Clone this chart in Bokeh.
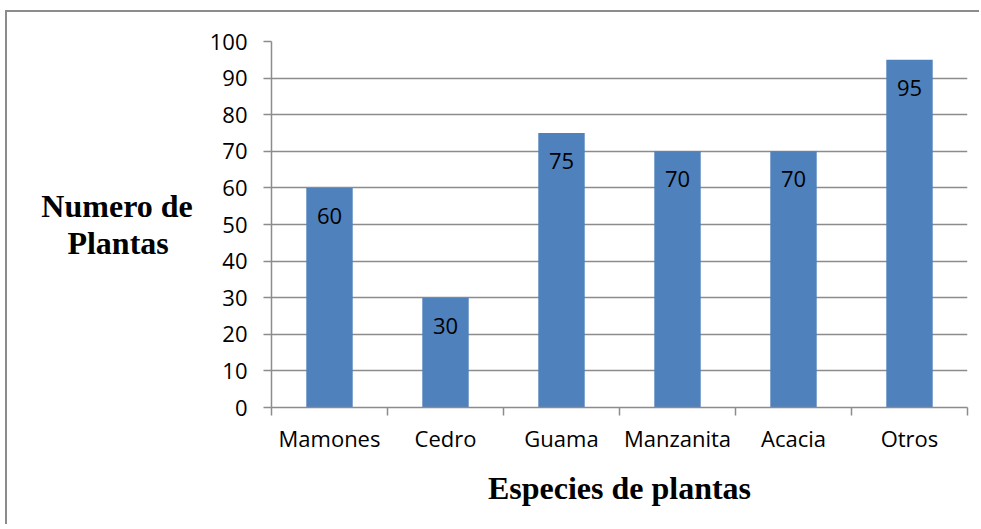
from bokeh.plotting import figure
from bokeh.models import FixedTicker, Range1d, ColumnDataSource
from bokeh.core.properties import value
from bokeh.embed import file_html
from bokeh.resources import INLINE

categories = ["Mamones", "Cedro", "Guama", "Manzanita", "Acacia", "Otros"]
counts = [60, 30, 75, 70, 70, 95]
y_ticks = [0, 10, 20, 30, 40, 50, 60, 70, 80, 90, 100]
x_title = "Especies de plantas"
# the second line is padded with no-break spaces so that it sits centred
y_title = "Numero de\nPlantas\u00a0\u00a0\u00a0"

n = len(categories)
centers = [i + 0.5 for i in range(n)]
bounds = list(range(n + 1))

GRAY = "#8c8c8c"
BAR = "#4F81BD"
TICK_FONT = "Open Sans"
TITLE_FONT = "Liberation Serif"

source = ColumnDataSource(dict(
    x=centers, top=counts, cat=categories, label=[str(v) for v in counts]))

p = figure(width=974, height=514, output_backend="svg", toolbar_location=None,
           x_range=Range1d(0, n), y_range=Range1d(0, 100),
           min_border_left=264, min_border_right=14,
           min_border_top=29, min_border_bottom=119)
p.margin = (10, 0, 0, 5)
p.styles = {"border-left": "2px solid " + GRAY, "border-top": "2px solid " + GRAY}
p.outline_line_color = None
p.background_fill_color = "white"
p.border_fill_color = "white"

p.vbar(x="x", top="top", bottom=0, width=0.4, source=source,
       fill_color=BAR, line_color=None)
p.text(x="x", y="top", text="label", source=source, text_align="center",
       text_baseline="alphabetic", y_offset=28,
       text_font=value(TICK_FONT), text_font_size="22px", text_color="black")

# grid
p.xgrid.grid_line_color = None
p.ygrid.ticker = FixedTicker(ticks=y_ticks)
p.ygrid.grid_line_color = GRAY
p.ygrid.grid_line_width = 1.5

# y axis
ya = p.yaxis[0]
ya.ticker = FixedTicker(ticks=y_ticks)
ya.axis_line_color = GRAY
ya.axis_line_width = 1.5
ya.major_tick_line_color = GRAY
ya.major_tick_line_width = 1.5
ya.major_tick_out = 8
ya.major_tick_in = 0
ya.minor_tick_line_color = None
ya.major_label_standoff = 16
ya.major_label_text_font = TICK_FONT
ya.major_label_text_font_size = "22px"
ya.major_label_text_color = "black"
ya.axis_label = y_title
try:
    ya.axis_label_orientation = "horizontal"
except Exception:
    pass
ya.axis_label_standoff = 14
ya.axis_label_text_font = TITLE_FONT
ya.axis_label_text_font_style = "bold"
ya.axis_label_text_font_size = "32px"
ya.axis_label_text_line_height = 1.05
ya.axis_label_text_color = "black"

# x axis
xa = p.xaxis[0]
xa.ticker = FixedTicker(ticks=centers, minor_ticks=bounds)
xa.major_label_overrides = {c: name for c, name in zip(centers, categories)}
xa.axis_line_color = GRAY
xa.axis_line_width = 1.5
xa.major_tick_line_color = None
xa.major_tick_out = 0
xa.major_tick_in = 0
xa.minor_tick_line_color = GRAY
xa.minor_tick_line_width = 1.5
xa.minor_tick_out = 8
xa.minor_tick_in = 0
xa.major_label_standoff = 7
xa.major_label_text_font = TICK_FONT
xa.major_label_text_font_size = "22px"
xa.major_label_text_color = "black"
xa.axis_label = x_title
xa.axis_label_standoff = 14
xa.axis_label_text_font = TITLE_FONT
xa.axis_label_text_font_style = "bold"
xa.axis_label_text_font_size = "32px"
xa.axis_label_text_color = "black"

open("out.html", "w").write(file_html(p, INLINE))
